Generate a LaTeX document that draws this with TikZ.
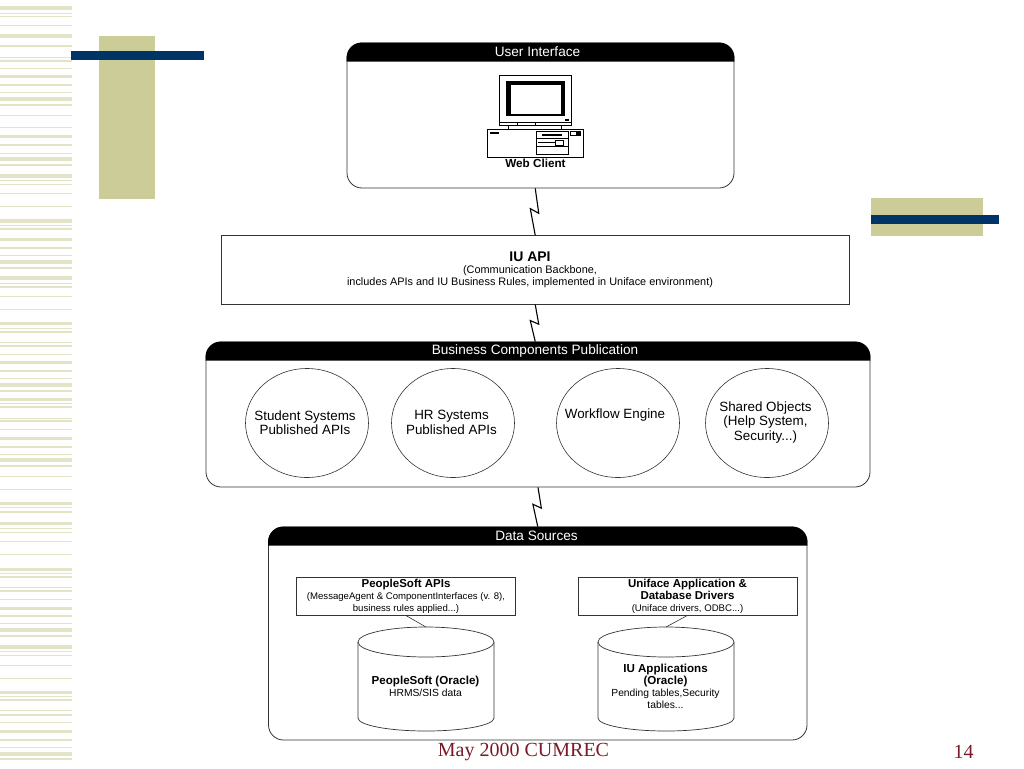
\documentclass[tikz,border=0pt]{standalone}
\usepackage{fontspec}
\setmainfont{Liberation Sans}
\newfontfamily\slidefont{Liberation Serif}
\usetikzlibrary{calc}
\usetikzlibrary{shapes.geometric}
\definecolor{tan}{HTML}{CCCC99}
\definecolor{navy}{HTML}{003366}
\definecolor{stripe}{HTML}{E3E3C8}
\definecolor{footred}{HTML}{7A1A28}
\definecolor{edge}{HTML}{333333}
\newcommand{\fs}[2]{\fontsize{#1}{#2}\selectfont}
\newcommand{\bigb}{\fs{11.5}{12}\bfseries}
\newcommand{\smalltxt}{\fs{9.6}{11}}
\newcommand{\drumb}{\fs{11.6}{12}\bfseries}
\newcommand{\drumt}{\fs{10.3}{11}}
\newcommand{\drumshape}[1]{
  \draw [drum] ($(#1)+(-68,15)$) -- ++(0,76) arc [start angle=180,end angle=360,x radius=68pt,y radius=13pt] -- ++(0,-76);
  \draw [drum] ($(#1)+(0,15)$) ellipse [x radius=68pt,y radius=15pt];
}
\tikzset{
  panel/.style={draw=edge,line width=.8pt,rounded corners=15pt,fill=white,inner sep=0pt},
  headtext/.style={text=white,font=\fs{13.6}{15}},
  bubble/.style={draw=edge,line width=.6pt,ellipse,fill=white,inner sep=0pt,minimum width=123,minimum height=109},
  bubbletext/.style={align=center,font=\fs{13.4}{14.5}},
  apibox/.style={draw=edge,line width=.8pt,fill=white,inner sep=0pt},
  drum/.style={draw=edge,line width=.7pt,fill=white},
  zap/.style={line width=1.1pt,to path={-- ($(\tikztostart)!.53!(\tikztotarget)+(3.5,0)$) -- ($(\tikztostart)!.43!(\tikztotarget)+(-5,0)$) -- (\tikztotarget)}}
}
\begin{document}
\begin{tikzpicture}[x=1pt,y=-1pt]
\useasboundingbox (0,0) rectangle (1024,768);
\foreach \a/\b in {6/10,13/14,16/17,25/26,34/38,45.5/47,57/58,60/61.5,68/69,75/78,84/86,92/93,97/101,104/106,115/116,127/128,135/138,144/146,153/154,157/161,164/166,174/178,180/181,184/185,193/194,206/207,219/223,225/226,228/230,238/241,247/249,255/256,260/264,267/269,276/280,283/284,286/287.5,296/297,309/310,322/325,328/329,331/333,342/343,345/347,354/355,361/364,370/372,378/379,383/387,390/392,398/401,403/404,406/408,418/419,420/422,429/430,437/440,446/447.5,454/455,458/462,465/467,476/477,489/490,502/505,507/508,511/512.5,522/525,528/529,532/533,541/542,554/555,568/571,573/574,576/578,587/588,590/592,599/600,607/609.5,615/617,623/624,628/632,635/637,645/649,651/652,655/656,665/666,678/679,691/694,696/697,699/701,710/711,714/716,722/723,730/733,739/740.5,747/748,752/756,758/760}
  \fill [stripe] (0,\a) rectangle (72,\b);
\fill [tan] (99,36) rectangle (155,199);
\fill [navy] (71,51) rectangle (204,60);
\fill [tan] (871,198) rectangle (982.5,236);
\fill [navy] (871,215) rectangle (998.5,224);
\draw node [panel,minimum width=387,minimum height=145] (UI) at (540.5,115.5) {};
\fill ([yshift=-19pt]UI.north west) [rounded corners=15pt] -- (UI.north west) -- (UI.north east) [sharp corners] -- ([yshift=-19pt]UI.north east) -- cycle;
\draw node [headtext] (UItitle) at (537.5,52) {User Interface};
\draw node [apibox,minimum width=627.5,minimum height=68.5] (API) at (535.25,270) {};
\draw node [align=center] (APItext) at (530,269.5) {\fs{14}{14}\bfseries IU API\\\fs{10.9}{11.7}(Communication Backbone,\\\fs{10.9}{11.7}includes APIs and IU Business Rules, implemented in Uniface environment)};
\draw node [panel,minimum width=664,minimum height=145] (BCP) at (538,414.5) {};
\fill ([yshift=-19pt]BCP.north west) [rounded corners=15pt] -- (BCP.north west) -- (BCP.north east) [sharp corners] -- ([yshift=-19pt]BCP.north east) -- cycle;
\draw node [headtext] (BCPtitle) at (535,351) {Business Components Publication};
\draw node [bubble] (Student) at (307,423) {};
\draw node [bubbletext] (Studenttext) at (305,422.5) {Student Systems\\Published APIs};
\draw node [bubble] (HR) at (453,423) {};
\draw node [bubbletext] (HRtext) at (451.5,422.5) {HR Systems\\Published APIs};
\draw node [bubble] (Flow) at (618,423) {};
\draw node [bubbletext] (Flowtext) at (615,415) {Workflow Engine};
\draw node [bubble] (Shared) at (767,423) {};
\draw node [bubbletext] (Sharedtext) at (765.5,422.5) {Shared Objects\\(Help System,\\Security...)};
\draw node [panel,minimum width=538.5,minimum height=213] (DS) at (537.75,633.5) {};
\fill ([yshift=-19pt]DS.north west) [rounded corners=15pt] -- (DS.north west) -- (DS.north east) [sharp corners] -- ([yshift=-19pt]DS.north east) -- cycle;
\draw node [headtext] (DStitle) at (536.5,536) {Data Sources};
\draw node [apibox,minimum width=218.5,minimum height=38] (PSAPI) at (405.75,596) {};
\draw node [align=center] (PSAPItext) at (406,596) {\bigb PeopleSoft APIs\\\smalltxt (MessageAgent \& ComponentInterfaces (v. 8),\\\smalltxt business rules applied...)};
\draw node [apibox,minimum width=219,minimum height=38] (UFAPI) at (687.5,596) {};
\draw node [align=center] (UFAPItext) at (687.5,596.5) {\bigb Uniface Application \&\\\bigb Database Drivers\\\smalltxt (Uniface drivers, ODBC...)};
\coordinate (PS) at (426,627);
\drumshape{PS}
\draw node [align=center] (PStext) at (425.5,686) {\drumb PeopleSoft (Oracle)\\\drumt HRMS/SIS data};
\coordinate (IU) at (666,627);
\drumshape{IU}
\draw node [align=center] (IUtext) at (665.5,686) {\drumb IU Applications\\\drumb (Oracle)\\\drumt Pending tables,Security\\\drumt tables...};
\draw [edge,line width=.6pt] (PSAPI.south) -- (PS);
\draw [edge,line width=.6pt] (UFAPI.south) -- (IU);
\draw [zap] (API.north |- UI.south) to (API.north);
\draw [zap] (API.south) to (API.south |- BCP.north);
\draw [zap] (BCP.south) to (DS.north);
% web client
\draw [line width=.7pt,fill=white] (499,75.5) rectangle (571.5,125.5);
\draw [line width=.6pt] (499,122.5) -- (571.5,122.5) (517,122.5) -- (517,125.5) (535.5,122.5) -- (535.5,125.5);
\fill (506,81) rectangle (564.5,116);
\fill [white] (511,85) rectangle (560.5,113.5);
\fill (565,119) rectangle (569,120.5);
\draw [line width=.6pt] (508,125.5) -- (508,129) (561.5,125.5) -- (561.5,129);
\draw [line width=.7pt,fill=white] (487.5,129) rectangle (583,157.5);
\fill (490,131.5) rectangle (499,134);
\draw [line width=.6pt] (536.5,131) rectangle (568.5,154.5) (536.5,138.5) -- (568.5,138.5) (536.5,146.5) -- (568.5,146.5) (538,142.5) -- (555,142.5) (555,140) rectangle (563,145);
\fill (542,134.3) rectangle (562,136);
\draw [line width=.6pt] (570.5,131) rectangle (580.5,135.5);
\fill (575.5,131) rectangle (580.5,135.5);
\draw node [font=\fs{11.7}{13}\bfseries] (Webclient) at (535.5,163.5) {Web Client};
\draw node [text=footred,font=\slidefont\fs{20}{22}] (Foot) at (523.5,751.5) {May 2000 CUMREC};
\draw node [text=footred,font=\slidefont\fs{20}{22}] (Page) at (963.5,751.5) {14};
\end{tikzpicture}
\end{document}
